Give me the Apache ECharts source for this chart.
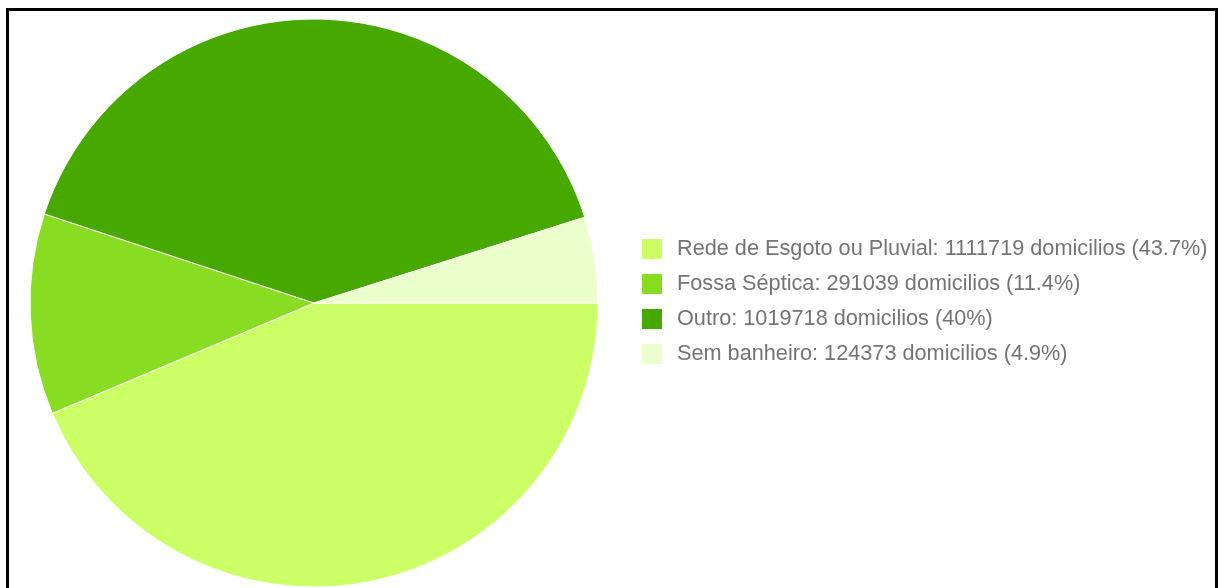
<!DOCTYPE html>
<html lang="pt" style="height: 100%">

<head>
  <meta charset="utf-8">
</head>

<body style="height: 100%; margin: 0; background: #fff">
  <div id="container" style="height: 100%"></div>

  <script type="text/javascript" src="https://fastly.jsdelivr.net/npm/echarts@6.0.0/dist/echarts.min.js"></script>

  <script type="text/javascript">
    // destino do esgoto
    var categorias = ['Rede de Esgoto ou Pluvial', 'Fossa Séptica', 'Outro', 'Sem banheiro'];
    var domicilios = [1111719, 291039, 1019718, 124373];
    var cores = ['#ccff66', '#88dd22', '#47a800', '#eaffcc'];

    var total = domicilios.reduce(function (a, b) { return a + b; }, 0);

    var dom = document.getElementById('container');
    var myChart = echarts.init(dom, null, { renderer: 'canvas' });

    var dados = categorias.map(function (nome, i) {
      return { name: nome, value: domicilios[i], itemStyle: { color: cores[i] } };
    });

    var option = {
      animation: false,
      backgroundColor: '#fff',
      legend: {
        orient: 'vertical',
        left: 635,
        top: 232,
        itemWidth: 22,
        itemHeight: 22,
        itemGap: 11,
        selectedMode: false,
        icon: 'rect',
        textStyle: {
          fontFamily: 'Liberation Sans, Arial, sans-serif',
          fontSize: 21.7,
          lineHeight: 22,
          color: '#747474',
          padding: [0, 0, 0, 9]
        },
        formatter: function (nome) {
          var i = categorias.indexOf(nome);
          var pct = Math.round(domicilios[i] / total * 1000) / 10;
          return nome + ': ' + domicilios[i] + ' domicilios (' + pct + '%)';
        },
        data: categorias
      },
      graphic: [
        {
          type: 'rect',
          silent: true,
          shape: { x: 7.5, y: 9.5, width: 1209, height: 700 },
          style: { fill: 'none', stroke: '#000', lineWidth: 3 }
        }
      ],
      series: [
        {
          type: 'pie',
          center: [314, 303],
          radius: 284,
          startAngle: 0,
          clockwise: true,
          silent: true,
          label: { show: false },
          labelLine: { show: false },
          itemStyle: { borderColor: '#fff', borderWidth: 1 },
          data: dados
        }
      ]
    };

    myChart.setOption(option);
    window.addEventListener('resize', myChart.resize);
  </script>
</body>

</html>
